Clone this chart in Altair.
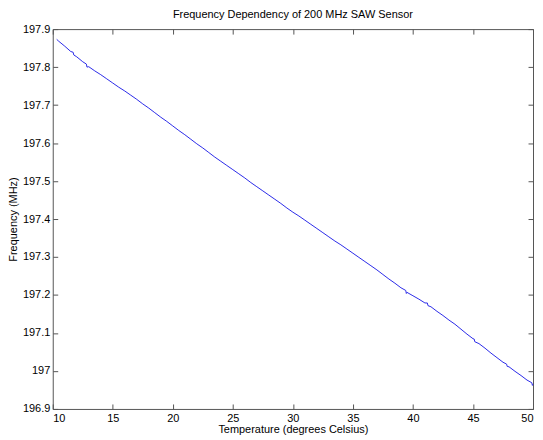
import altair as alt
import pandas as pd

temperature = [
    10.33, 10.5, 11.0, 11.5, 11.7, 11.75, 12.0, 12.5, 12.8, 12.85, 13.0, 13.5, 14.0, 14.5,
    15.0, 15.5, 16.0, 16.5, 17.0, 17.5, 18.0, 18.5, 19.0, 19.5,
    20.0, 20.5, 21.0, 21.5, 22.0, 22.5, 23.0, 23.5, 24.0, 24.5,
    25.0, 25.5, 26.0, 26.5, 27.0, 27.5, 28.0, 28.5, 29.0, 29.5,
    30.0, 30.5, 31.0, 31.5, 32.0, 32.5, 33.0, 33.5, 34.0, 34.5,
    35.0, 35.5, 36.0, 36.5, 37.0, 37.5, 38.0, 38.5, 39.0, 39.4, 39.45, 39.5,
    40.0, 40.5, 41.0, 41.2, 41.25, 41.5, 42.0, 42.5, 43.0, 43.5, 44.0, 44.5,
    45.0, 45.1, 45.15, 45.5, 46.0, 46.5, 47.0, 47.5, 47.8, 47.85, 48.0, 48.5,
    49.0, 49.5, 49.9, 49.95, 50.0,
]
frequency = [
    197.873, 197.868, 197.855, 197.841, 197.839, 197.832, 197.827, 197.814, 197.808, 197.800, 197.801, 197.790, 197.780, 197.769,
    197.758, 197.747, 197.737, 197.726, 197.715, 197.703, 197.692, 197.680, 197.668, 197.657,
    197.645, 197.633, 197.622, 197.610, 197.598, 197.587, 197.575, 197.563, 197.552, 197.541,
    197.530, 197.519, 197.508, 197.496, 197.485, 197.474, 197.463, 197.452, 197.441, 197.429,
    197.418, 197.408, 197.397, 197.386, 197.375, 197.364, 197.353, 197.342, 197.332, 197.321,
    197.310, 197.299, 197.288, 197.277, 197.266, 197.254, 197.242, 197.231, 197.219, 197.212, 197.204, 197.207,
    197.198, 197.189, 197.179, 197.179, 197.172, 197.169, 197.157, 197.146, 197.134, 197.123, 197.110, 197.097,
    197.085, 197.084, 197.077, 197.072, 197.060, 197.047, 197.035, 197.023, 197.018, 197.012, 197.011, 196.999,
    196.988, 196.976, 196.969, 196.962, 196.965,
]

x_ticks = [10, 15, 20, 25, 30, 35, 40, 45, 50]
y_ticks = [196.9, 197.0, 197.1, 197.2, 197.3, 197.4, 197.5, 197.6, 197.7, 197.8, 197.9]

df = pd.DataFrame({"t": temperature, "f": frequency})

FONT = "Liberation Sans"
GRAY = "#555555"

xscale = alt.Scale(domain=[10, 50], nice=False, zero=False)
yscale = alt.Scale(domain=[196.9, 197.9], nice=False, zero=False)

main = alt.Chart(df).mark_line(color="#2a2ae8", strokeWidth=1).encode(
    x=alt.X("t:Q", scale=xscale, title="Temperature (degrees Celsius)",
            axis=alt.Axis(values=x_ticks, orient="bottom", offset=-5, tickSize=5,
                          tickColor=GRAY, domain=False, grid=False, labelPadding=4,
                          labelFont=FONT, labelFontSize=11, labelColor="#000000",
                          titleFont=FONT, titleFontSize=11, titleFontWeight="normal",
                          titleColor="#000000", titlePadding=0, format="d")),
    y=alt.Y("f:Q", scale=yscale, title="Frequency (MHz)",
            axis=alt.Axis(values=y_ticks, orient="left", offset=-5, tickSize=5,
                          tickColor=GRAY, domain=False, grid=False, labelPadding=3,
                          labelFont=FONT, labelFontSize=11, labelColor="#000000",
                          titleFont=FONT, titleFontSize=11, titleFontWeight="normal",
                          titleColor="#000000", titlePadding=4, format="~f")),
)

ghost = alt.Chart(df).mark_line(strokeOpacity=0).encode(
    x=alt.X("t:Q", scale=xscale, title=None,
            axis=alt.Axis(values=x_ticks, orient="top", offset=-5, tickSize=5,
                          tickColor=GRAY, domain=False, grid=False, labels=False)),
    y=alt.Y("f:Q", scale=yscale, title=None,
            axis=alt.Axis(values=y_ticks, orient="right", offset=-5, tickSize=5,
                          tickColor=GRAY, domain=False, grid=False, labels=False)),
)

chart = alt.layer(main, ghost).resolve_axis(x="independent", y="independent").properties(
    width=483,
    height=382,
    title=alt.TitleParams("Frequency Dependency of 200 MHz SAW Sensor", font=FONT,
                          fontSize=11, fontWeight="normal", color="#000000", offset=3),
    autosize=alt.AutoSizeParams(type="none"),
    padding={"left": 45, "top": 20, "right": 2, "bottom": 30},
).configure_view(stroke=GRAY, strokeWidth=1)

chart.save("out.html", embed_options={"renderer": "svg", "actions": False})
